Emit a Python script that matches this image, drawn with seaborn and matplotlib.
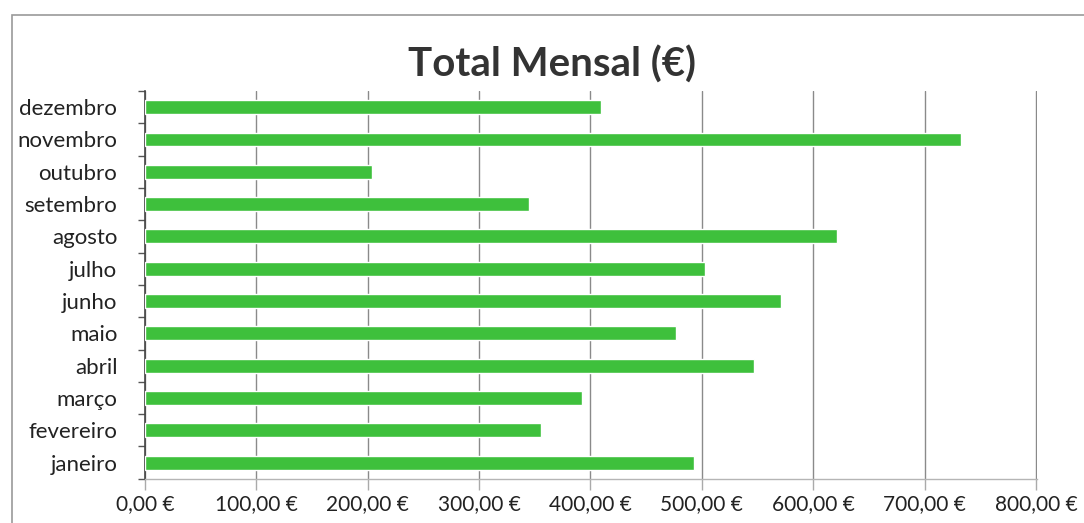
import matplotlib
matplotlib.use("Agg")
import matplotlib.pyplot as plt
import matplotlib.patches as patches
from matplotlib.ticker import FuncFormatter, FixedLocator
import pandas as pd
import seaborn as sns

# Valores (de cima para baixo)
meses = ["dezembro", "novembro", "outubro", "setembro", "agosto", "julho",
         "junho", "maio", "abril", "março", "fevereiro", "janeiro"]
totais = [409, 733, 204, 345, 621, 503, 571, 477, 547, 392, 356, 493]
x_ticks = [0, 100, 200, 300, 400, 500, 600, 700, 800]

df = pd.DataFrame({"mes": meses, "total": totais})

sns.set_style("white")
plt.rcParams["font.family"] = ["Lato", "DejaVu Sans"]

fig = plt.figure(figsize=(10.84, 5.23), dpi=100)
ax = fig.add_axes([0.1338, 0.0845, 0.8229, 0.7415])

sns.barplot(data=df, x="total", y="mes", order=meses, orient="h",
            color="#3ec03c", width=0.43, saturation=1, ax=ax, zorder=3)

ax.set_xlim(0, 801)
ax.set_ylim(len(meses) - 0.5, -0.5)
ax.xaxis.set_major_locator(FixedLocator(x_ticks))
ax.xaxis.set_major_formatter(
    FuncFormatter(lambda v, p: "{:.2f} €".format(v).replace(".", ",")))
ax.grid(axis="x", color="#8a8a8a", linewidth=1.0, zorder=0)
ax.grid(axis="y", visible=False)

# eixo de categorias estilo Excel: marcas entre categorias
ax.yaxis.set_minor_locator(FixedLocator([i - 0.5 for i in range(len(meses) + 1)]))
ax.tick_params(axis="y", which="major", length=0, labelsize=16, pad=20,
               colors="#222222")
ax.tick_params(axis="y", which="minor", length=5, width=1, color="#555555",
               direction="out", left=True)
ax.tick_params(axis="x", length=8, width=1, labelsize=15, pad=3,
               bottom=True, colors="#aaaaaa", labelcolor="#222222")

for s in ["top", "right"]:
    ax.spines[s].set_visible(False)
ax.spines["left"].set_color("#444444")
ax.spines["left"].set_linewidth(1.2)
ax.spines["bottom"].set_color("#b5b5b5")
ax.spines["bottom"].set_linewidth(1.0)

ax.set_xlabel("")
ax.set_ylabel("")

fig.text(0.509, 0.876, "Total Mensal (€)", ha="center", va="center",
         fontsize=29, fontweight="bold", color="#333333")

# moldura do gráfico
moldura = patches.Rectangle((0.011, -0.05), 1.2, 1.022, transform=fig.transFigure,
                            fill=False, edgecolor="#9a9a9a", linewidth=1.2)
fig.patches.append(moldura)

fig.savefig("out.png", dpi=100)
plt.close(fig)
